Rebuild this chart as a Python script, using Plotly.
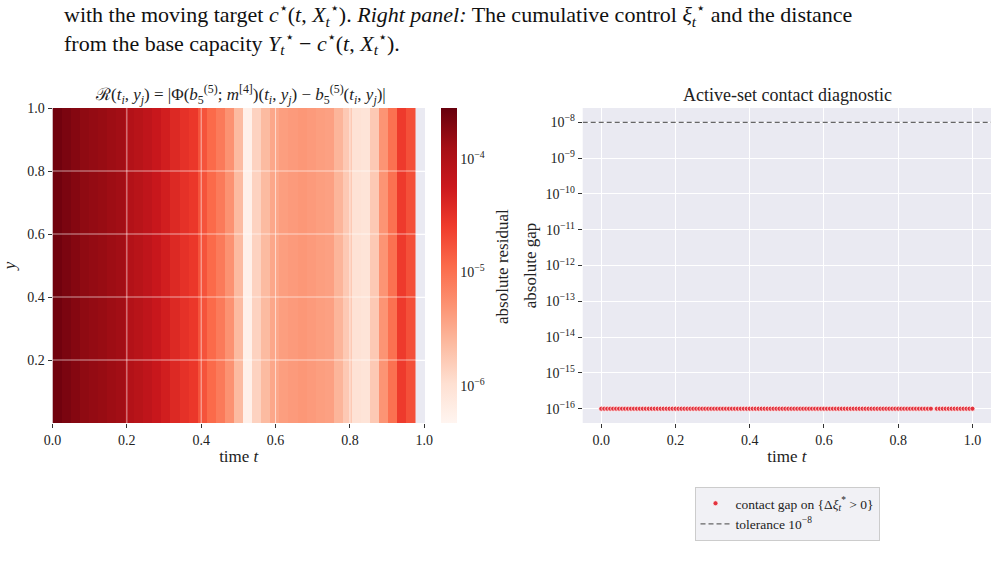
import numpy as np
import plotly.graph_objects as go

# ---------------- data ----------------
# left panel: residual heatmap, one value per time cell (constant in y)
t_edges = [0.0000, 0.0244, 0.0488, 0.0732, 0.0976, 0.1220, 0.1463, 0.1707, 0.1951, 0.2195,
           0.2439, 0.2683, 0.2927, 0.3171, 0.3415, 0.3659, 0.3902, 0.4146, 0.4390, 0.4634,
           0.4878, 0.5122, 0.5366, 0.5610, 0.5854, 0.6098, 0.6341, 0.6585, 0.6829, 0.7073,
           0.7317, 0.7561, 0.7805, 0.8049, 0.8293, 0.8537, 0.8780, 0.9024, 0.9268, 0.9512,
           0.9756]
y_edges = [0.0, 1.0]
residual = [2.48e-4, 2.18e-4, 1.92e-4, 1.69e-4, 1.58e-4, 1.49e-4, 1.39e-4, 1.31e-4,
            9.5e-5, 8.4e-5, 7.3e-5, 6.1e-5, 5.0e-5, 3.9e-5, 3.2e-5, 2.8e-5,
            1.7e-5, 1.15e-5, 8.3e-6, 5.2e-6, 2.3e-6, 5.7e-7, 1.4e-6, 2.3e-6,
            3.4e-6, 4.1e-6, 4.4e-6, 4.7e-6, 4.4e-6, 4.1e-6, 3.9e-6, 2.6e-6,
            1.7e-6, 9.5e-7, 8.9e-7, 1.7e-6, 5.0e-6, 1.0e-5, 2.6e-5, 1.8e-5]
res_log_min, res_log_max = -6.33, -3.55

# right panel: contact gap on active set
contact_t = [0.000, 0.008, 0.016, 0.024, 0.032, 0.040, 0.048, 0.056, 0.064, 0.072,
             0.080, 0.088, 0.096, 0.104, 0.112, 0.120, 0.128, 0.136, 0.144, 0.152,
             0.160, 0.168, 0.176, 0.184, 0.192, 0.200, 0.208, 0.216, 0.224, 0.232,
             0.240, 0.248, 0.256, 0.264, 0.272, 0.280, 0.288, 0.296, 0.304, 0.312,
             0.320, 0.328, 0.336, 0.344, 0.352, 0.360, 0.368, 0.376, 0.384, 0.392,
             0.400, 0.408, 0.416, 0.424, 0.432, 0.440, 0.448, 0.456, 0.464, 0.472,
             0.480, 0.488, 0.496, 0.504, 0.512, 0.520, 0.528, 0.536, 0.544, 0.552,
             0.560, 0.568, 0.576, 0.584, 0.592, 0.600, 0.608, 0.616, 0.624, 0.632,
             0.640, 0.648, 0.656, 0.664, 0.672, 0.680, 0.688, 0.696, 0.704, 0.712,
             0.720, 0.728, 0.736, 0.744, 0.752, 0.760, 0.768, 0.776, 0.784, 0.792,
             0.800, 0.808, 0.816, 0.824, 0.832, 0.840, 0.848, 0.856, 0.864, 0.872,
             0.880, 0.888, 0.904, 0.912, 0.920, 0.928, 0.936, 0.944, 0.952, 0.960,
             0.968, 0.976, 0.984, 0.992, 1.000]
contact_gap = [1e-16] * len(contact_t)
tolerance = 1e-8

x_ticks = [0.0, 0.2, 0.4, 0.6, 0.8, 1.0]
y_ticks_left = [0.2, 0.4, 0.6, 0.8, 1.0]
gap_ticks = [1e-16, 1e-15, 1e-14, 1e-13, 1e-12, 1e-11, 1e-10, 1e-9, 1e-8]
gap_tick_text = ["10<sup>−16</sup>", "10<sup>−15</sup>", "10<sup>−14</sup>", "10<sup>−13</sup>",
                 "10<sup>−12</sup>", "10<sup>−11</sup>", "10<sup>−10</sup>", "10<sup>−9</sup>",
                 "10<sup>−8</sup>"]
cbar_ticks = [-6, -5, -4]
cbar_tick_text = ["10<sup>−6</sup>", "10<sup>−5</sup>", "10<sup>−4</sup>"]

# ---------------- style ----------------
W, H = 997, 575
FONT = "Liberation Serif, Times New Roman, serif"
BG = "#eaeaf2"
TXT = "#222222"
reds = ['rgb(255,245,240)', 'rgb(254,224,210)', 'rgb(252,187,161)', 'rgb(252,146,114)',
        'rgb(251,106,74)', 'rgb(239,59,44)', 'rgb(203,24,29)', 'rgb(165,15,21)', 'rgb(103,0,13)']
colorscale = [[i / 8, c] for i, c in enumerate(reds)]
x2_range = [-0.05, 1.05]


def px_x(p):
    return p / W


def px_y(p):
    return 1 - p / H


fig = go.Figure()

fig.add_trace(go.Heatmap(
    x=t_edges, y=y_edges, z=[list(np.log10(residual))],
    zmin=res_log_min, zmax=res_log_max, colorscale=colorscale,
    xaxis="x", yaxis="y", showlegend=False, hoverinfo="skip",
    colorbar=dict(
        x=px_x(441), xanchor="left", thickness=16, thicknessmode="pixels",
        y=px_y(423), yanchor="bottom", len=(423 - 108) / H, lenmode="fraction",
        outlinewidth=0, tickvals=cbar_ticks, ticktext=cbar_tick_text, xpad=0, ypad=0,
        ticks="", tickfont=dict(family=FONT, size=14, color=TXT),
    ),
))

RED = "#e3333e"
fig.add_trace(go.Scatter(
    x=contact_t, y=contact_gap, mode="markers", xaxis="x2", yaxis="y2",
    marker=dict(color=RED, size=5, line=dict(color="white", width=0.7)),
    name="contact gap on {Δ<i>ξ</i><sub><i>t</i></sub><sup>*</sup> > 0}",
))
fig.add_trace(go.Scatter(
    x=x2_range, y=[tolerance, tolerance], mode="lines", xaxis="x2", yaxis="y2",
    line=dict(color="#666666", width=1.3, dash="5px,3px"),
    name="tolerance 10<sup>−8</sup>", hoverinfo="skip",
))

axis_common = dict(
    showgrid=True, gridcolor="white", gridwidth=1, zeroline=False, automargin=False,
    showline=False, ticks="outside", ticklen=4, tickcolor="#333", tickwidth=1,
    tickfont=dict(family=FONT, size=14, color=TXT),
)

ydom = [px_y(423), px_y(108)]
fig.update_layout(
    width=W, height=H, margin=dict(l=0, r=0, t=0, b=0, autoexpand=False),
    paper_bgcolor="white", plot_bgcolor=BG,
    font=dict(family=FONT, color=TXT),
    xaxis=dict(domain=[px_x(52.5), px_x(425)], range=[0, 1.002], tickvals=x_ticks,
               tickformat=".1f", anchor="y",
               title=dict(text="time <i>t</i>", font=dict(family=FONT, size=17), standoff=3),
               **axis_common),
    yaxis=dict(domain=ydom, range=[0, 1], tickvals=y_ticks_left, tickformat=".1f",
               anchor="x",
               title=dict(text="<i>y</i>", font=dict(family=FONT, size=17), standoff=10),
               **axis_common),
    xaxis2=dict(domain=[px_x(582.7), px_x(991)], range=x2_range, tickvals=x_ticks,
                tickformat=".1f", anchor="y2",
                title=dict(text="time <i>t</i>", font=dict(family=FONT, size=17), standoff=3),
                **axis_common),
    yaxis2=dict(domain=ydom, type="log", range=[-16.4, -7.6], tickvals=gap_ticks,
                ticktext=gap_tick_text, anchor="x2",
                title=dict(text="absolute gap", font=dict(family=FONT, size=17), standoff=4),
                **axis_common),
    showlegend=True,
    legend=dict(x=px_x(787), xanchor="center", y=px_y(487), yanchor="top",
                bgcolor="#f1f1f5", bordercolor="#cccccc", borderwidth=1,
                font=dict(family=FONT, size=13.5, color=TXT),
                itemsizing="trace", itemwidth=30, tracegroupgap=0),
)

# white grid lines drawn over the heatmap (as in the reference)
for xv in x_ticks[1:-1]:
    fig.add_shape(type="line", xref="x", yref="y domain", x0=xv, x1=xv, y0=0, y1=1,
                  line=dict(color="rgba(255,255,255,0.6)", width=1), layer="above")
for yv in y_ticks_left[:-1]:
    fig.add_shape(type="line", xref="x domain", yref="y", x0=0, x1=1, y0=yv, y1=yv,
                  line=dict(color="rgba(255,255,255,0.6)", width=1), layer="above")

# colorbar label
fig.add_annotation(
    x=px_x(502), y=px_y(266), xref="paper", yref="paper", showarrow=False,
    xanchor="center", yanchor="middle", textangle=-90,
    text="absolute residual", font=dict(family=FONT, size=17, color=TXT))

# panel titles
fig.add_annotation(
    x=px_x(240), y=px_y(95), xref="paper", yref="paper", showarrow=False,
    xanchor="center", yanchor="middle",
    text=("ℛ(<i>t<sub>i</sub></i>, <i>y<sub>j</sub></i>) = |Φ(<i>b</i><sub>5</sub><sup>(5)</sup>; "
          "<i>m</i><sup>[4]</sup>)(<i>t<sub>i</sub></i>, <i>y<sub>j</sub></i>) − "
          "<i>b</i><sub>5</sub><sup>(5)</sup>(<i>t<sub>i</sub></i>, <i>y<sub>j</sub></i>)|"),
    font=dict(family=FONT, size=17, color=TXT))
fig.add_annotation(
    x=px_x(787), y=px_y(95), xref="paper", yref="paper", showarrow=False,
    xanchor="center", yanchor="middle",
    text="Active-set contact diagnostic",
    font=dict(family=FONT, size=18, color=TXT))

# caption text from the surrounding document (two lines in one block)
cap_font = dict(family=FONT, size=22, color="#111")
fig.add_annotation(
    x=px_x(62), y=px_y(29), xref="paper", yref="paper", showarrow=False,
    xanchor="left", yanchor="middle", align="left", font=cap_font,
    text=("with the moving target <i>c</i><sup>⋆</sup>(<i>t</i>, <i>X</i><sub><i>t</i></sub><sup>⋆</sup>). "
          "<i>Right panel:</i> The cumulative control <i>ξ</i><sub><i>t</i></sub><sup>⋆</sup> and the distance"
          "<br>from the base capacity <i>Y</i><sub><i>t</i></sub><sup>⋆</sup> − "
          "<i>c</i><sup>⋆</sup>(<i>t</i>, <i>X</i><sub><i>t</i></sub><sup>⋆</sup>)."))

fig.write_html("out.html")
